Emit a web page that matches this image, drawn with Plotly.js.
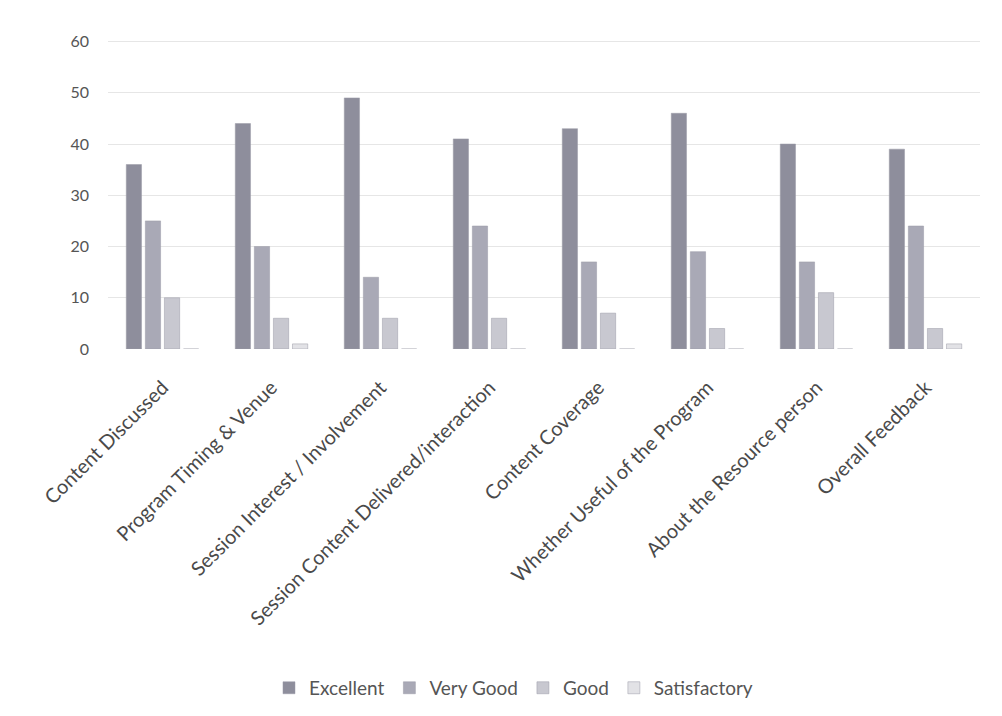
<!DOCTYPE html>
<html><head><meta charset="utf-8">
<script src="https://cdn.plot.ly/plotly-3.0.1.min.js"></script>
<style>html,body{margin:0;padding:0;background:#fff;}#chart{width:1002px;height:716px;}</style>
</head><body><div id="chart"></div>
<script>
const categories = ["Content Discussed","Program Timing & Venue","Session Interest / Involvement","Session Content Delivered/interaction","Content Coverage","Whether Useful of the Program","About the Resource person","Overall Feedback"];
const excellent    = [36, 44, 49, 41, 43, 46, 40, 39];
const veryGood     = [25, 20, 14, 24, 17, 19, 17, 24];
const good         = [10, 6, 6, 6, 7, 4, 11, 4];
const satisfactory = [0, 1, 0, 0, 0, 0, 0, 1];
const yTicks = [0,10,20,30,40,50,60];

const series = [
  {name:"Excellent", y:excellent, color:"#8e8e9c"},
  {name:"Very Good", y:veryGood, color:"#a9a9b6"},
  {name:"Good", y:good, color:"#c8c8d0"},
  {name:"Satisfactory", y:satisfactory, color:"#e2e2e6"}
];
const data = series.map(s => ({
  type:"bar", name:s.name, x:categories, y:s.y,
  marker:{color:s.color, line:{color:"#9a9aa6", width:0.5}}
}));
const layout = {
  width:1002, height:716,
  margin:{l:108, r:22, t:40, b:366},
  paper_bgcolor:"#fff", plot_bgcolor:"#fff",
  font:{family:"Lato, 'Open Sans', sans-serif", color:"#4a4a4a", size:15},
  barmode:"group", bargap:0.3, bargroupgap:0.2,
  xaxis:{tickangle:-45, tickfont:{size:20, color:"#4a4a4a"}, showline:false, ticks:"", ticklabelstandoff:22, automargin:false},
  yaxis:{range:[0,60.3], tickvals:yTicks, showgrid:true, gridcolor:"#e6e6e6", zeroline:false, tickfont:{size:16, color:"#555"}, ticklabelstandoff:18},
  legend:{orientation:"h", x:0.465, xanchor:"center", y:-1.09, yanchor:"middle", font:{size:19, color:"#555"}, traceorder:"normal", itemwidth:30},
  showlegend:true
};
Plotly.newPlot("chart", data, layout, {displayModeBar:false, staticPlot:true});
</script></body></html>
